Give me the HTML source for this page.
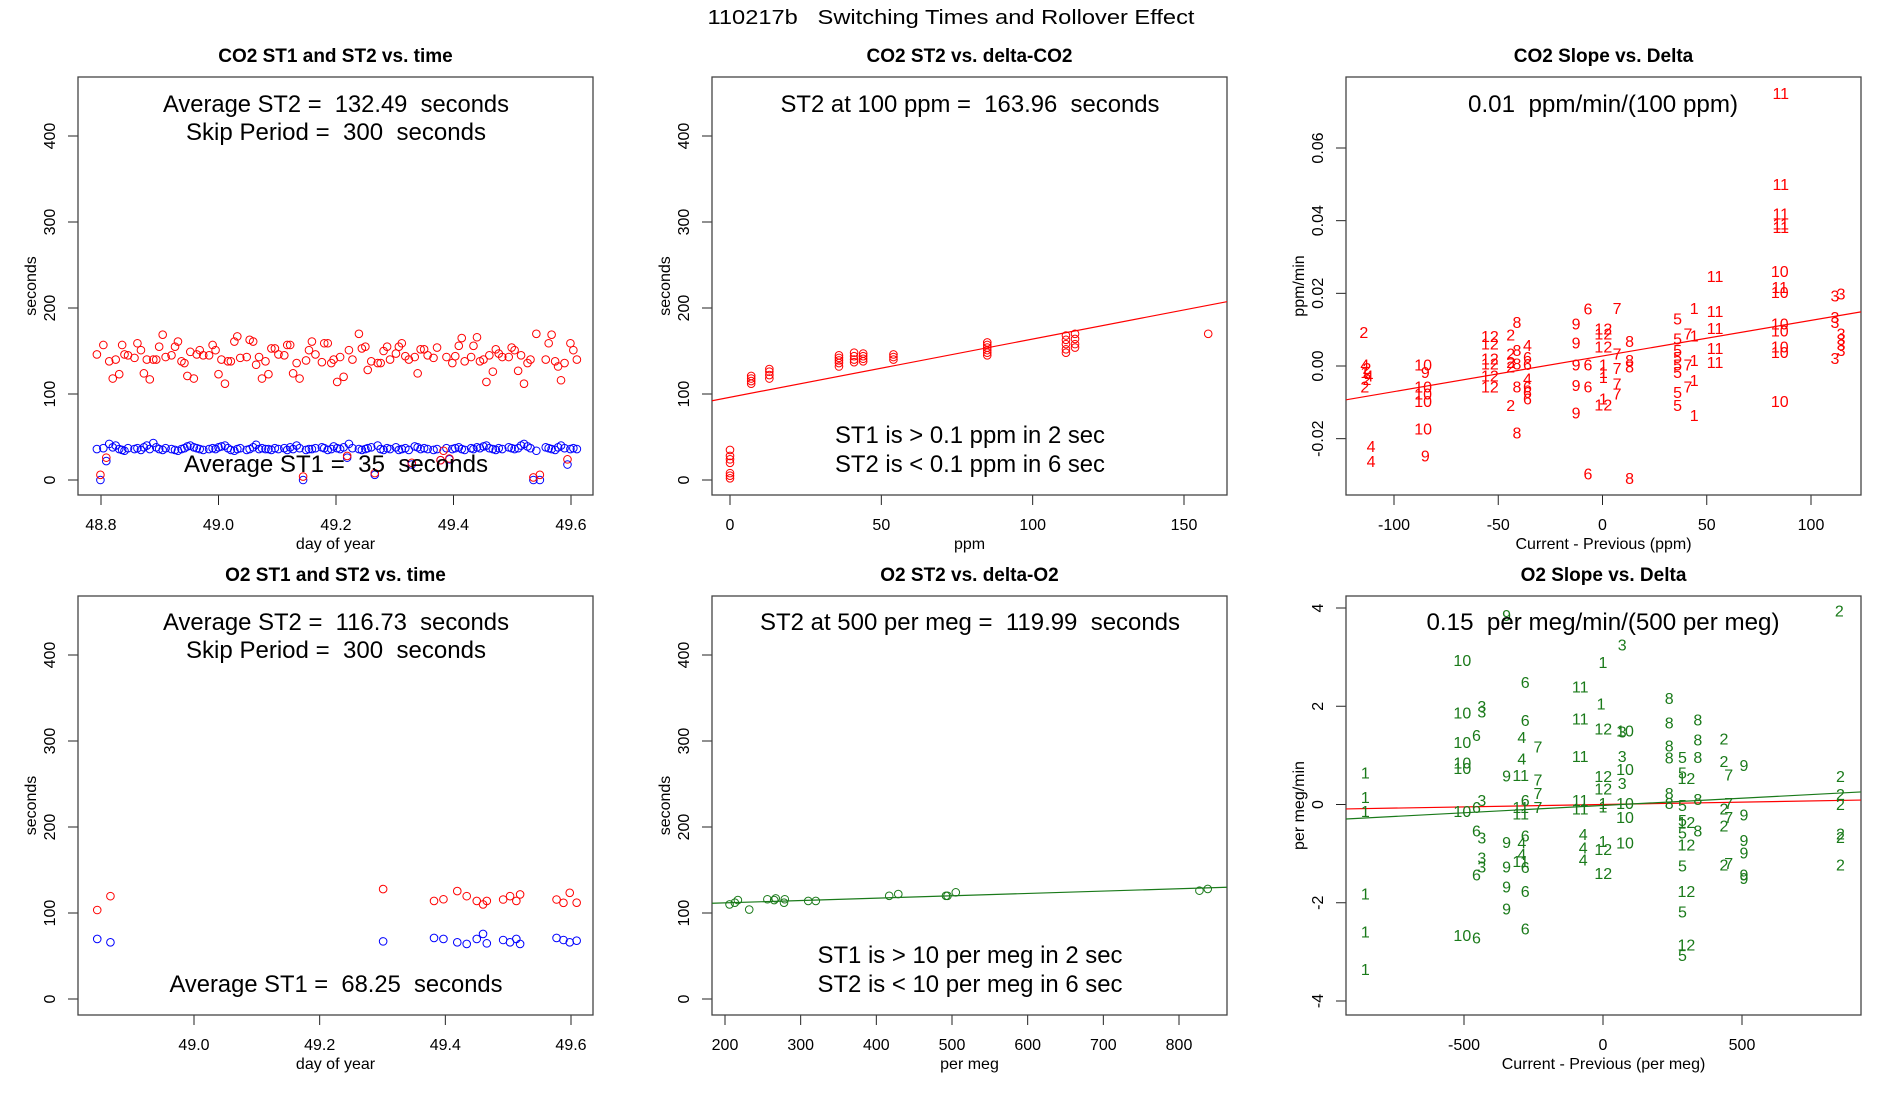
<!DOCTYPE html>
<html><head><meta charset="utf-8"><title>110217b Switching Times and Rollover Effect</title>
<style>html,body{margin:0;padding:0;background:#fff}svg{display:block;font-family:"Liberation Sans",sans-serif}.pre{white-space:pre}</style>
</head><body>
<svg id="fig" xmlns="http://www.w3.org/2000/svg" width="1900" height="1100" viewBox="0 0 1900 1100">
<rect width="1900" height="1100" fill="#fff"/>
<text class="pre" x="951" y="24" font-size="20" text-anchor="middle" textLength="487" lengthAdjust="spacingAndGlyphs">110217b   Switching Times and Rollover Effect</text>
</svg>
<script>
// ---------- Panel 1 (CO2 ST1/ST2 vs time) ----------
const co2Days=[48.793,48.804,48.814,48.820,48.825,48.831,48.836,48.840,48.846,48.857,48.862,48.868,48.873,48.878,48.883,48.889,48.894,48.899,48.905,48.910,48.920,48.926,48.931,48.937,48.942,48.947,48.952,48.958,48.963,48.968,48.974,48.984,48.990,48.995,49.000,49.005,49.011,49.016,49.021,49.027,49.032,49.037,49.048,49.053,49.059,49.064,49.069,49.074,49.080,49.085,49.090,49.096,49.102,49.112,49.117,49.122,49.127,49.133,49.138,49.149,49.154,49.159,49.165,49.176,49.180,49.186,49.192,49.196,49.202,49.207,49.213,49.222,49.228,49.239,49.244,49.250,49.254,49.260,49.271,49.276,49.281,49.287,49.292,49.302,49.307,49.312,49.318,49.324,49.334,49.339,49.344,49.350,49.356,49.366,49.372,49.388,49.398,49.403,49.409,49.414,49.419,49.430,49.434,49.440,49.445,49.451,49.456,49.461,49.467,49.472,49.477,49.483,49.494,49.499,49.504,49.510,49.515,49.520,49.526,49.531,49.541,49.557,49.562,49.567,49.573,49.578,49.583,49.589,49.599,49.604,49.610];
const co2ST2=[146,157,138,118,140,123,157,146,145,142,159,151,124,140,117,140,140,155,169,143,145,155,161,138,136,121,149,118,146,151,145,145,157,151,123,140,112,138,138,161,167,142,143,163,161,134,143,118,138,123,153,153,146,145,157,157,124,136,118,139,151,161,146,137,159,159,136,140,114,143,120,151,140,170,153,155,128,138,136,136,150,155,140,147,155,159,144,140,143,124,152,152,145,142,154,143,136,144,156,165,138,143,156,166,138,140,114,145,126,152,147,143,143,154,151,127,145,112,136,140,170,140,159,169,138,132,116,136,159,151,140];
const co2ST1=[36,37,42,38,40,36,35,34,37,36,37,35,38,40,36,43,38,36,35,37,36,35,34,36,37,39,40,38,37,36,35,36,37,36,38,39,40,37,35,34,36,37,35,36,38,41,36,37,36,36,35,37,36,37,35,38,36,40,37,35,36,36,37,38,37,35,36,39,37,36,38,42,37,36,35,36,37,38,40,36,35,37,36,38,35,36,37,35,39,38,36,37,36,35,36,37,36,37,38,36,35,37,36,38,37,39,40,37,36,35,37,36,38,37,36,37,40,42,39,37,34,38,37,36,35,38,40,37,36,37,36];
const co2LowDays=[48.799,48.809,49.144,49.219,49.266,49.329,49.378,49.383,49.393,49.536,49.547,49.594];
const co2LowST2=[6,26,4,28,8,20,23,34,25,3,6,24];
const co2LowST1Days=[48.799,48.809,49.144,49.219,49.266,49.329,49.378,49.393,49.536,49.547,49.594];
const co2LowST1=[0,22,0,26,6,18,23,24,0,0,18];
// ---------- Panel 2 (CO2 ST2 vs delta) ----------
const co2Delta=[0,0,0,0,0,0,0,7,7,7,7,13,13,13,13,36,36,36,36,36,41,41,41,41,44,44,44,44,54,54,54,85,85,85,85,85,85,111,111,111,111,111,114,114,114,114,158];
const co2DeltaST2=[2,5,8,20,24,28,35,112,115,118,121,118,122,126,129,132,136,139,142,145,137,140,144,148,138,141,144,147,140,143,146,145,148,151,154,157,160,148,152,158,163,168,154,158,164,170,170];
const co2FitIntercept=[96.2];
const co2FitSlope=[0.677];
// ---------- Panel 3 (CO2 slope vs delta) ----------
const co2SlopeX=[-114.5,-114,-113,-114,-112,-113,-114,-111,-111,-86,-85,-86,-86,-86,-86,-85,-54,-54,-54,-54,-54,-54,-44,-44,-44,-44,-44,-41,-41,-41,-41,-41,-36,-36,-36,-36,-36,-36,-36,-12.7,-12.7,-12.7,-12.7,-12.7,-7,-7,-7,-7,0.4,0.4,0.4,0.4,0.4,0.4,0.4,0.4,7,7,7,7,7,13,13,13,13,36,36,36,36,36,36,36,36,41,41,41,44,44,44,44,44,54,54,54,54,54,85.5,85.5,85.5,85.5,85.5,85,85,85,85,85,85,85,85,111.5,114.4,111.5,111.5,114.4,114.4,114.4,114.4,111.5];
const co2SlopeY=[0.009,0.000,-0.001,-0.002,-0.003,-0.004,-0.006,-0.0224,-0.0266,0.000,-0.002,-0.006,-0.008,-0.010,-0.0176,-0.025,0.0078,0.0058,0.0016,0.0003,-0.003,-0.006,0.0082,0.003,0.0007,-0.0006,-0.0112,0.0117,0.004,0.0003,-0.006,-0.0187,0.0053,0.002,0.0002,-0.0038,-0.006,-0.0075,-0.0093,0.0113,0.006,0.000,-0.0057,-0.0132,0.0154,0.000,-0.006,-0.030,0.0099,0.0085,0.0049,0.000,-0.002,-0.0034,-0.0093,-0.011,0.0156,0.003,-0.001,-0.0052,-0.008,0.0065,0.0012,-0.0006,-0.0313,0.0126,0.0071,0.004,0.002,0.000,-0.002,-0.0075,-0.0112,0.0085,0.000,-0.006,0.0156,0.008,0.0012,-0.0043,-0.0139,0.0243,0.0147,0.0101,0.0046,0.0007,0.0747,0.0497,0.0415,0.0388,0.0378,0.0257,0.0213,0.020,0.0113,0.0094,0.0049,0.0035,-0.010,0.019,0.0195,0.0131,0.0117,0.0085,0.0070,0.0055,0.0040,0.0018];
const co2SlopeLab=["2","4","2","1","4","2","2","4","4","10","9","10","10","10","10","9","12","12","12","12","12","12","2","2","2","2","2","8","8","8","8","8","4","6","6","4","6","6","6","9","9","9","9","9","6","6","6","6","12","12","12","1","1","1","1","12","7","7","7","7","7","8","8","8","8","5","5","5","5","5","5","5","5","7","7","7","1","1","1","1","1","11","11","11","11","11","11","11","11","11","11","10","11","10","10","10","10","10","10","3","3","3","3","3","3","3","3","3"];
const co2SlopeFitA=[0.00275];
const co2SlopeFitB=[0.000098];
// ---------- Panel 4 (O2 ST1/ST2 vs time) ----------
const o2Days=[48.846,48.867,49.301,49.382,49.397,49.419,49.434,49.450,49.460,49.466,49.492,49.503,49.513,49.519,49.577,49.588,49.598,49.609];
const o2ST2=[103.5,119.6,127.8,114,116,125.5,119.6,114,110,114,115.7,119.6,114,121.6,115.7,111.8,123.5,112];
const o2ST1=[69.8,65.9,67,71,69.8,65.9,64,69.8,75.7,64.7,68.6,65.9,69.8,64,71,68.6,65.9,67.8];
// ---------- Panel 5 (O2 ST2 vs delta) ----------
const o2Delta=[206,213,217,232,256,265,267,278,279,310,320,417,429,492,494,505,827,838];
const o2DeltaST2=[110,112,115,104,116,115,117,112,116,114,114,120,122,120,120,124,126,128];
const o2FitIntercept=[106.3];
const o2FitSlope=[0.0274];
// ---------- Panel 6 (O2 slope vs delta) ----------
const o2SlopeX=[-855,-855,-855,-855,-855,-855,-506,-506,-506,-506,-506,-506,-506,-455,-455,-455,-455,-455,-436,-436,-436,-436,-436,-436,-347,-347,-347,-347,-347,-347,-296,-296,-296,-296,-280,-280,-280,-280,-280,-280,-280,-292,-292,-292,-292,-234,-234,-234,-234,-82,-82,-82,-82,-82,-71,-71,-71,0,-7,0,0,0,1,1,1,1,1,69,69,69,69,79,79,79,79,79,238,238,238,238,238,238,286,286,286,286,286,286,286,286,300,300,300,300,300,341,341,341,341,341,435,435,435,435,435,452,452,452,452,507,507,507,507,507,507,850,854,854,854,854,854,854];
const o2SlopeY=[0.62,0.12,-0.16,-1.84,-2.62,-3.38,2.91,1.84,1.24,0.82,0.71,-0.16,-2.69,1.38,-0.08,-0.56,-1.46,-2.74,1.97,1.86,0.06,-0.7,-1.11,-1.29,3.83,0.56,-0.79,-1.29,-1.7,-2.15,0.57,-0.08,-0.21,-1.18,2.46,1.69,0.06,-0.66,-1.3,-1.79,-2.55,1.34,0.91,-0.8,-1.04,1.15,0.48,0.2,-0.08,2.37,1.72,0.96,0.06,-0.11,-0.63,-0.91,-1.15,2.87,2.03,0,-0.07,-0.77,1.52,0.55,0.3,-0.94,-1.43,3.23,1.46,0.96,0.41,1.48,0.69,0,-0.28,-0.8,2.14,1.64,1.17,0.93,0.2,0,0.94,0.62,-0.04,-0.35,-0.6,-1.27,-2.21,-3.09,0.51,-0.39,-0.84,-1.79,-2.88,1.7,1.29,0.94,0.08,-0.56,1.31,0.86,-0.11,-0.46,-1.25,0.58,0,-0.28,-1.22,0.77,-0.23,-0.75,-1.01,-1.46,-1.53,3.92,0.55,0.18,-0.02,-0.62,-0.69,-1.25];
const o2SlopeLab=["1","1","1","1","1","1","10","10","10","10","10","10","10","6","6","6","6","6","3","3","3","3","3","3","9","9","9","9","9","9","11","11","11","11","6","6","6","6","6","6","6","4","4","4","4","7","7","7","7","11","11","11","11","11","4","4","4","1","1","1","1","1","12","12","12","12","12","3","3","3","3","10","10","10","10","10","8","8","8","8","8","8","5","5","5","5","5","5","5","5","12","12","12","12","12","8","8","8","8","8","2","2","2","2","2","7","7","7","7","9","9","9","9","9","9","2","2","2","2","2","2","2"];
const o2SlopeFitA=[-0.02];
const o2SlopeFitB=[0.000297];
const o2SlopeFit2A=[0];
const o2SlopeFit2B=[0.0000972];

const NS="http://www.w3.org/2000/svg";
const svg=document.getElementById('fig');
function mk(tag,attrs,parent){const e=document.createElementNS(NS,tag);for(const k in attrs)e.setAttribute(k,attrs[k]);(parent||svg).appendChild(e);return e;}
function lin(v1,p1,v2,p2){const f=v=>p1+(v-v1)*(p2-p1)/(v2-v1);f.inv=p=>v1+(p-p1)*(v2-v1)/(p2-p1);return f;}

function panel(o){
  const g=mk('g',{});
  
  
  const {x0,x1,y0,y1}=o.box;
  const cid='clip-'+o.name;
  const cp=mk('clipPath',{id:cid},g);mk('rect',{x:x0,y:y0,width:x1-x0,height:y1-y0},cp);
  const t=mk('text',{x:(x0+x1)/2,y:y0-15,'font-size':19,'font-weight':'bold','text-anchor':'middle'},g);
  t.textContent=o.title;
  
  
  const xa=mk('g',{},g);
  
  
  const xs=o.xs, ys=o.ys;
  mk('line',{x1:xs(o.xt[0]),x2:xs(o.xt[o.xt.length-1]),y1:y1,y2:y1,stroke:'#222'},xa);
  o.xt.forEach((v,i)=>{const px=xs(v);mk('line',{x1:px,x2:px,y1:y1,y2:y1+10,stroke:'#222'},xa);
    const l=mk('text',{x:px,y:y1+35,'font-size':16,'text-anchor':'middle'},xa);l.textContent=o.xtl[i];
    
    });
  const xl=mk('text',{x:(x0+x1)/2,y:y1+54,'font-size':16,'text-anchor':'middle'},xa);xl.textContent=o.xlab;
  
  
  const ya=mk('g',{},g);
  
  
  mk('line',{x1:x0,x2:x0,y1:ys(o.yt[0]),y2:ys(o.yt[o.yt.length-1]),stroke:'#222'},ya);
  o.yt.forEach((v,i)=>{const py=ys(v);mk('line',{x1:x0-10,x2:x0,y1:py,y2:py,stroke:'#222'},ya);
    const l=mk('text',{x:x0-23,y:py,'font-size':16,'text-anchor':'middle',transform:`rotate(-90 ${x0-23} ${py})`},ya);l.textContent=o.ytl[i];
    
    });
  const yl=mk('text',{x:x0-42,y:(y0+y1)/2,'font-size':16,'text-anchor':'middle',transform:`rotate(-90 ${x0-42} ${(y0+y1)/2})`},ya);yl.textContent=o.ylab;
  
  
  const b=mk('rect',{x:x0,y:y0,width:x1-x0,height:y1-y0,fill:'none',stroke:'#444','stroke-width':1.3},g);
  
  
  const pg=mk('g',{'clip-path':`url(#${cid})`},g);
  
  
  return {g,pg,xs,ys,box:o.box};
}
function circles(p,xsArr,ysArr,col,name){
  const n=Math.min(xsArr.length,ysArr.length);
  for(let i=0;i<n;i++){const c=mk('circle',{cx:p.xs(xsArr[i]),cy:p.ys(ysArr[i]),r:3.8,fill:'none',stroke:col,'stroke-width':1},p.pg);
    
    }
}
function labels(p,xsArr,ysArr,labs,col,name){
  for(let i=0;i<xsArr.length;i++){const t=mk('text',{x:p.xs(xsArr[i]),y:p.ys(ysArr[i]),'font-size':16,fill:col,'text-anchor':'middle','dominant-baseline':'central'},p.pg);
    t.textContent=labs[i];
    
    }
}
function fitLine(p,a,b,col,name){
  const xa=p.xs.inv(p.box.x0),xb=p.xs.inv(p.box.x1);
  const l=mk('line',{x1:p.box.x0,y1:p.ys(a+b*xa),x2:p.box.x1,y2:p.ys(a+b*xb),stroke:col,'stroke-width':1.2},p.pg);
  
  
}
function note(p,x,y,txt,w,name){
  const t=mk('text',{x:x,y:y,'font-size':24,'text-anchor':'middle',textLength:w,lengthAdjust:'spacingAndGlyphs','class':'pre'},p.g);
  t.textContent=txt;
  
  
}
const secT=[0,100,200,300,400], secTL=['0','100','200','300','400'];
const boxT={y0:77,y1:495}, boxB={y0:596,y1:1015};
const cols=[[78,593],[712,1227],[1346,1861]];
const ysTop=lin(0,480,400,136), ysBot=lin(0,999,400,655);

// Panel 1
let p=panel({name:'co2-st-vs-time',title:'CO2 ST1 and ST2 vs. time',box:{x0:cols[0][0],x1:cols[0][1],...boxT},
  xs:lin(48.8,101,49.6,571),ys:ysTop,xt:[48.8,49.0,49.2,49.4,49.6],xtl:['48.8','49.0','49.2','49.4','49.6'],yt:secT,ytl:secTL,xlab:'day of year',ylab:'seconds'});
circles(p,co2Days,co2ST1,'#0000ff','st1-point');
circles(p,co2LowST1Days,co2LowST1,'#0000ff','st1-point');
circles(p,co2Days,co2ST2,'#ff0000','st2-point');
circles(p,co2LowDays,co2LowST2,'#ff0000','st2-point');
note(p,336,112,'Average ST2 =  132.49  seconds',346,'avg-st2-note');
note(p,336,140,'Skip Period =  300  seconds',300,'skip-period-note');
note(p,336,472,'Average ST1 =  35  seconds',304,'avg-st1-note');

// Panel 2
p=panel({name:'co2-st2-vs-delta',title:'CO2 ST2 vs. delta-CO2',box:{x0:cols[1][0],x1:cols[1][1],...boxT},
  xs:lin(0,730,150,1184),ys:ysTop,xt:[0,50,100,150],xtl:['0','50','100','150'],yt:secT,ytl:secTL,xlab:'ppm',ylab:'seconds'});
fitLine(p,co2FitIntercept[0],co2FitSlope[0],'#ff0000','fit-line');
circles(p,co2Delta,co2DeltaST2,'#ff0000','st2-point');
note(p,970,112,'ST2 at 100 ppm =  163.96  seconds',379,'st2-at-100-note');
note(p,970,443,'ST1 is > 0.1 ppm in 2 sec',270,'st1-def-note');
note(p,970,472,'ST2 is < 0.1 ppm in 6 sec',270,'st2-def-note');

// Panel 3
p=panel({name:'co2-slope-vs-delta',title:'CO2 Slope vs. Delta',box:{x0:cols[2][0],x1:cols[2][1],...boxT},
  xs:lin(-100,1394,100,1811),ys:lin(0,366,0.06,148),xt:[-100,-50,0,50,100],xtl:['-100','-50','0','50','100'],
  yt:[-0.02,0,0.02,0.04,0.06],ytl:['-0.02','0.00','0.02','0.04','0.06'],xlab:'Current - Previous (ppm)',ylab:'ppm/min'});
fitLine(p,co2SlopeFitA[0],co2SlopeFitB[0],'#ff0000','fit-line');
labels(p,co2SlopeX,co2SlopeY,co2SlopeLab,'#ff0000','hour-label');
note(p,1603,112,'0.01  ppm/min/(100 ppm)',270,'slope-note');

// Panel 4
p=panel({name:'o2-st-vs-time',title:'O2 ST1 and ST2 vs. time',box:{x0:cols[0][0],x1:cols[0][1],...boxB},
  xs:lin(49.0,194,49.6,571),ys:ysBot,xt:[49.0,49.2,49.4,49.6],xtl:['49.0','49.2','49.4','49.6'],yt:secT,ytl:secTL,xlab:'day of year',ylab:'seconds'});
circles(p,o2Days,o2ST1,'#0000ff','st1-point');
circles(p,o2Days,o2ST2,'#ff0000','st2-point');
note(p,336,630,'Average ST2 =  116.73  seconds',346,'avg-st2-note');
note(p,336,658,'Skip Period =  300  seconds',300,'skip-period-note');
note(p,336,992,'Average ST1 =  68.25  seconds',333,'avg-st1-note');

// Panel 5
p=panel({name:'o2-st2-vs-delta',title:'O2 ST2 vs. delta-O2',box:{x0:cols[1][0],x1:cols[1][1],...boxB},
  xs:lin(200,725,800,1179),ys:ysBot,xt:[200,300,400,500,600,700,800],xtl:['200','300','400','500','600','700','800'],yt:secT,ytl:secTL,xlab:'per meg',ylab:'seconds'});
fitLine(p,o2FitIntercept[0],o2FitSlope[0],'#1a7a1a','fit-line');
circles(p,o2Delta,o2DeltaST2,'#1a7a1a','st2-point');
note(p,970,630,'ST2 at 500 per meg =  119.99  seconds',420,'st2-at-500-note');
note(p,970,963,'ST1 is > 10 per meg in 2 sec',305,'st1-def-note');
note(p,970,992,'ST2 is < 10 per meg in 6 sec',305,'st2-def-note');

// Panel 6
p=panel({name:'o2-slope-vs-delta',title:'O2 Slope vs. Delta',box:{x0:cols[2][0],x1:cols[2][1],...boxB},
  xs:lin(-500,1464,500,1742),ys:lin(4,608,-4,1001),xt:[-500,0,500],xtl:['-500','0','500'],
  yt:[-4,-2,0,2,4],ytl:['-4','-2','0','2','4'],xlab:'Current - Previous (per meg)',ylab:'per meg/min'});
fitLine(p,o2SlopeFit2A[0],o2SlopeFit2B[0],'#ff0000','reference-line');
fitLine(p,o2SlopeFitA[0],o2SlopeFitB[0],'#1a7a1a','fit-line');
labels(p,o2SlopeX,o2SlopeY,o2SlopeLab,'#1a7a1a','hour-label');
note(p,1603,630,'0.15  per meg/min/(500 per meg)',353,'slope-note');
</script>
</body></html>
